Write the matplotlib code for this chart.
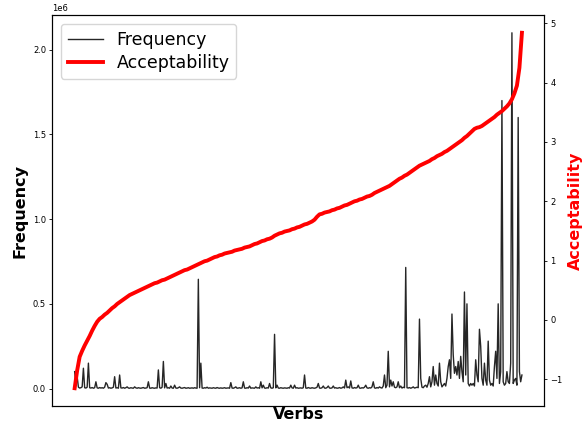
import matplotlib
matplotlib.use("Agg")
import matplotlib.pyplot as plt

frequency = [
    100000, 20000, 70000, 8000, 3000, 5000, 10000, 120000, 5000, 3000,
    8000, 150000, 5000, 3000, 6000, 2000, 5000, 40000, 4000, 2000,
    6000, 3000, 5000, 2000, 8000, 35000, 25000, 3000, 5000, 2000,
    4000, 8000, 70000, 3000, 5000, 2000, 80000, 4000, 3000, 6000,
    2000, 5000, 10000, 3000, 2000, 5000, 3000, 2000, 10000, 4000,
    2000, 5000, 3000, 2000, 4000, 6000, 2000, 3000, 5000, 40000,
    3000, 2000, 5000, 3000, 2000, 4000, 3000, 110000, 5000, 2000,
    8000, 160000, 4000, 30000, 3000, 5000, 2000, 15000, 3000, 2000,
    20000, 3000, 2000, 5000, 10000, 3000, 2000, 4000, 6000, 2000,
    3000, 5000, 2000, 3000, 4000, 2000, 5000, 3000, 2000, 645000,
    5000, 150000, 3000, 2000, 5000, 3000, 8000, 2000, 4000, 3000,
    2000, 5000, 3000, 2000, 6000, 3000, 2000, 4000, 2000, 3000,
    5000, 2000, 3000, 4000, 2000, 35000, 3000, 2000, 5000, 10000,
    2000, 3000, 5000, 2000, 4000, 40000, 3000, 2000, 5000, 3000,
    15000, 2000, 4000, 3000, 2000, 10000, 3000, 5000, 2000, 40000,
    4000, 20000, 3000, 2000, 5000, 3000, 30000, 4000, 2000, 5000,
    320000, 4000, 20000, 3000, 2000, 5000, 3000, 2000, 4000, 3000,
    2000, 5000, 3000, 20000, 4000, 2000, 20000, 3000, 5000, 2000,
    3000, 4000, 2000, 5000, 80000, 3000, 2000, 6000, 3000, 2000,
    5000, 3000, 2000, 4000, 8000, 30000, 3000, 2000, 5000, 15000,
    3000, 2000, 6000, 15000, 3000, 2000, 4000, 15000, 3000, 5000,
    2000, 3000, 6000, 2000, 4000, 10000, 3000, 50000, 5000, 10000,
    3000, 45000, 4000, 2000, 6000, 3000, 5000, 20000, 3000, 2000,
    5000, 3000, 8000, 20000, 4000, 2000, 5000, 3000, 10000, 40000,
    4000, 2000, 6000, 3000, 10000, 5000, 3000, 15000, 80000, 5000,
    20000, 220000, 10000, 50000, 15000, 40000, 8000, 5000, 10000, 40000,
    5000, 15000, 3000, 8000, 5000, 715000, 5000, 3000, 6000, 2000,
    5000, 10000, 3000, 5000, 8000, 5000, 410000, 60000, 8000, 5000,
    15000, 20000, 8000, 30000, 70000, 10000, 40000, 130000, 20000, 80000,
    30000, 15000, 150000, 40000, 10000, 20000, 30000, 15000, 60000, 130000,
    170000, 60000, 440000, 200000, 90000, 130000, 80000, 160000, 60000, 190000,
    100000, 40000, 570000, 80000, 500000, 30000, 15000, 30000, 20000, 30000,
    15000, 170000, 80000, 40000, 350000, 250000, 60000, 20000, 150000, 50000,
    20000, 280000, 50000, 20000, 30000, 15000, 130000, 220000, 60000, 500000,
    30000, 100000, 1700000, 40000, 20000, 30000, 100000, 40000, 30000, 150000,
    2100000, 30000, 50000, 60000, 20000, 1600000, 100000, 40000, 80000,
]

acceptability = [
    -1.15, -0.85, -0.62, -0.52, -0.43, -0.35, -0.27, -0.18, -0.10, -0.03,
    0.02, 0.05, 0.09, 0.12, 0.16, 0.20, 0.23, 0.27, 0.30, 0.33,
    0.36, 0.39, 0.42, 0.44, 0.46, 0.48, 0.50, 0.52, 0.54, 0.56,
    0.58, 0.60, 0.62, 0.63, 0.65, 0.67, 0.68, 0.70, 0.72, 0.74,
    0.76, 0.78, 0.80, 0.82, 0.84, 0.85, 0.87, 0.89, 0.91, 0.93,
    0.95, 0.97, 0.99, 1.00, 1.02, 1.04, 1.06, 1.07, 1.09, 1.10,
    1.12, 1.13, 1.14, 1.15, 1.17, 1.18, 1.19, 1.20, 1.22, 1.23,
    1.24, 1.26, 1.28, 1.29, 1.31, 1.33, 1.34, 1.36, 1.37, 1.39,
    1.42, 1.44, 1.46, 1.47, 1.49, 1.50, 1.51, 1.53, 1.54, 1.56,
    1.57, 1.59, 1.61, 1.62, 1.64, 1.66, 1.69, 1.74, 1.78, 1.79,
    1.81, 1.82, 1.83, 1.85, 1.86, 1.88, 1.89, 1.91, 1.93, 1.94,
    1.96, 1.98, 2.00, 2.01, 2.03, 2.04, 2.06, 2.08, 2.09, 2.11,
    2.14, 2.16, 2.18, 2.20, 2.22, 2.24, 2.26, 2.29, 2.32, 2.35,
    2.38, 2.40, 2.43, 2.45, 2.48, 2.51, 2.54, 2.57, 2.60, 2.62,
    2.64, 2.66, 2.68, 2.71, 2.73, 2.76, 2.78, 2.80, 2.83, 2.85,
    2.88, 2.91, 2.94, 2.97, 3.00, 3.03, 3.07, 3.10, 3.14, 3.18,
    3.22, 3.24, 3.25, 3.27, 3.30, 3.33, 3.36, 3.39, 3.42, 3.46,
    3.49, 3.52, 3.56, 3.60, 3.65, 3.72, 3.82, 3.95, 4.25, 4.84,
]

verbs_freq = list(range(len(frequency)))
verbs_acc = list(range(0, len(frequency), 2))

fig = plt.figure(figsize=(5.85, 4.23), dpi=100)
ax = fig.add_axes([0.0894, 0.0402, 0.8410, 0.9243])
ax2 = ax.twinx()

l1, = ax.plot(verbs_freq, frequency, color="black", alpha=0.85, lw=1.0, label="Frequency")
l2, = ax2.plot(verbs_acc, acceptability, color="red", lw=2.8, label="Acceptability")

ax.set_xticks([])
ax.set_xlabel("Verbs", fontsize=11.5, fontweight="bold", labelpad=0.5)
ax.set_ylabel("Frequency", fontsize=11.5, fontweight="bold", labelpad=4)
ax2.set_ylabel("Acceptability", fontsize=11.5, fontweight="bold", color="red", labelpad=4)

for a in (ax, ax2):
    a.tick_params(axis="y", labelsize=6, length=2.5, width=0.6, pad=2)
ax.yaxis.get_offset_text().set_fontsize(6)

ax.legend(handles=[l1, l2], labels=["Frequency", "Acceptability"],
          loc="upper left", fontsize=12.5, handlelength=2.0, borderpad=0.4,
          labelspacing=0.3, frameon=True)

fig.savefig("out.png", dpi=100)
